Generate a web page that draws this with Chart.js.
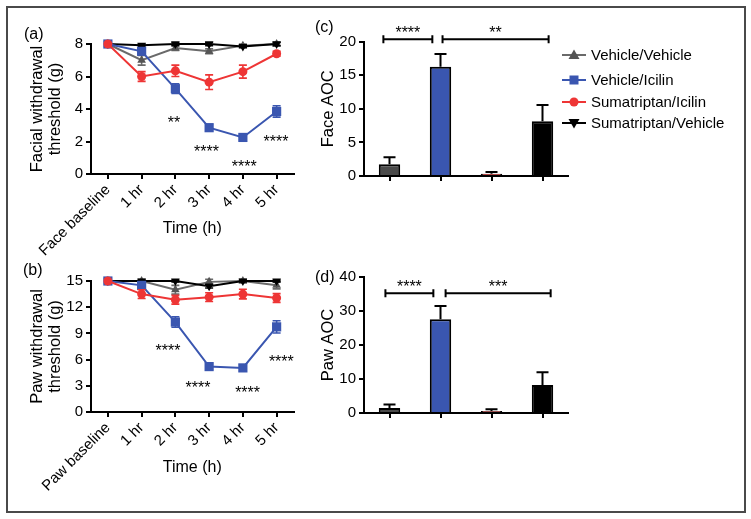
<!DOCTYPE html>
<html>
<head>
<meta charset="utf-8">
<script src="https://cdn.jsdelivr.net/npm/chart.js@4"></script>
<style>
body { margin: 0; background: #fff; font-family: "Liberation Sans", Arial, sans-serif; }
#wrap { position: relative; width: 751px; height: 519px; overflow: hidden; }
#frame { position: absolute; left: 6px; top: 6px; width: 736px; height: 503px; border: 2px solid #4a4a4a; }
canvas { position: absolute; }
.tag { position: absolute; font-size: 16px; line-height: 18px; }
.lg { position: absolute; left: 561px; height: 20px; font-size: 15px; line-height: 20px; display: flex; align-items: center; white-space: nowrap; }
.lg svg { margin-right: 4px; }
</style>
</head>
<body>
<div id="wrap">
  <div id="frame"></div>
  <canvas id="chartA" width="300" height="260" style="left:0;top:0"></canvas>
  <canvas id="chartB" width="300" height="260" style="left:0;top:250px"></canvas>
  <canvas id="chartC" width="290" height="250" style="left:300px;top:0"></canvas>
  <canvas id="chartD" width="290" height="260" style="left:300px;top:250px"></canvas>

  <div class="tag" style="left:24px;top:25px">(a)</div>
  <div class="tag" style="left:23px;top:261px">(b)</div>
  <div class="tag" style="left:315px;top:18px">(c)</div>
  <div class="tag" style="left:315px;top:268px">(d)</div>

  <div class="lg" style="top:45px"><svg width="26" height="14"><line x1="1" y1="7" x2="25" y2="7" stroke="#6a6a6a" stroke-width="2"/><polygon points="13,1.5 18.5,11 7.5,11" fill="#555"/></svg>Vehicle/Vehicle</div>
  <div class="lg" style="top:70px"><svg width="26" height="14"><line x1="1" y1="7" x2="25" y2="7" stroke="#3a56b0" stroke-width="2"/><rect x="8.5" y="2.5" width="9" height="9" fill="#3a56b0"/></svg>Vehicle/Icilin</div>
  <div class="lg" style="top:92px"><svg width="26" height="14"><line x1="1" y1="7" x2="25" y2="7" stroke="#ee3535" stroke-width="2"/><circle cx="13" cy="7" r="4.5" fill="#ee3535"/></svg>Sumatriptan/Icilin</div>
  <div class="lg" style="top:113px"><svg width="26" height="14"><line x1="1" y1="7" x2="25" y2="7" stroke="#000" stroke-width="2"/><polygon points="7.5,3 18.5,3 13,12.5" fill="#000"/></svg>Sumatriptan/Vehicle</div>
</div>

<script>
// time points
var faceTimes = ['Face baseline', '1 hr', '2 hr', '3 hr', '4 hr', '5 hr'];
var pawTimes = ['Paw baseline', '1 hr', '2 hr', '3 hr', '4 hr', '5 hr'];
var groups = ['Vehicle/Vehicle', 'Vehicle/Icilin', 'Sumatriptan/Icilin', 'Sumatriptan/Vehicle'];

// (a) facial withdrawal threshold, mean and SEM
var faceVehVeh = [8, 7.0, 7.75, 7.55, 7.9, 8.0];
var faceVehVehErr = [0, 0.3, 0.15, 0.15, 0.1, 0.1];
var faceVehIci = [8, 7.55, 5.25, 2.85, 2.25, 3.85];
var faceVehIciErr = [0, 0.15, 0.3, 0.2, 0.15, 0.35];
var faceSumIci = [8, 6.0, 6.35, 5.65, 6.3, 7.4];
var faceSumIciErr = [0, 0.3, 0.35, 0.45, 0.4, 0.15];
var faceSumVeh = [8, 7.92, 8.0, 8.0, 7.85, 8.0];
var faceSumVehErr = [0, 0.08, 0.1, 0.1, 0.08, 0.1];

// (b) paw withdrawal threshold
var pawVehVeh = [15, 15, 14.0, 14.9, 15, 14.5];
var pawVehVehErr = [0, 0.2, 0.5, 0.3, 0.2, 0.4];
var pawVehIci = [15, 14.5, 10.3, 5.2, 5.05, 9.75];
var pawVehIciErr = [0, 0.3, 0.6, 0.3, 0.35, 0.7];
var pawSumIci = [15, 13.5, 12.85, 13.15, 13.5, 13.05];
var pawSumIciErr = [0, 0.5, 0.5, 0.5, 0.55, 0.5];
var pawSumVeh = [15, 15, 15, 14.4, 15, 15];
var pawSumVehErr = [0, 0.1, 0.1, 0.2, 0.1, 0.1];

// (c) (d) area over the curve
var faceAoc = [1.75, 16.25, 0.35, 8.15];
var faceAocErr = [1.05, 1.9, 0.25, 2.4];
var pawAoc = [1.5, 27.6, 0.6, 8.2];
var pawAocErr = [1.0, 3.9, 0.5, 3.8];

Chart.defaults.font.family = '"Liberation Sans", Arial, sans-serif';
Chart.defaults.font.size = 15;
Chart.defaults.color = '#000';
Chart.defaults.animation = false;

var FONT = '"Liberation Sans", Arial, sans-serif';

var errorBars = {
    id: 'errorBars',
    beforeDatasetDraw: function (chart, args) {
        var ds = chart.data.datasets[args.index];
        if (!ds.errors) return;
        var y = chart.scales.y;
        var ctx = chart.ctx;
        var bar = chart.config.type === 'bar';
        ctx.save();
        ctx.strokeStyle = ds.errColor || ds.borderColor;
        ctx.lineWidth = bar ? 2 : 1.6;
        var cap = bar ? 6 : 4;
        args.meta.data.forEach(function (el, i) {
            var e = ds.errors[i];
            if (!e) return;
            var top = y.getPixelForValue(ds.data[i] + e);
            var bot = bar ? y.getPixelForValue(ds.data[i]) : y.getPixelForValue(ds.data[i] - e);
            ctx.beginPath();
            ctx.moveTo(el.x, top); ctx.lineTo(el.x, bot);
            ctx.moveTo(el.x - cap, top); ctx.lineTo(el.x + cap, top);
            if (!bar) { ctx.moveTo(el.x - cap, bot); ctx.lineTo(el.x + cap, bot); }
            ctx.stroke();
        });
        ctx.restore();
    }
};

// asterisks and comparison brackets
function marks(stars, brackets) {
    return {
        id: 'marks',
        afterDraw: function (chart) {
            var ctx = chart.ctx, x = chart.scales.x, y = chart.scales.y;
            ctx.save();
            ctx.fillStyle = '#000';
            ctx.strokeStyle = '#000';
            ctx.font = '16px ' + FONT;
            ctx.textAlign = 'center';
            ctx.textBaseline = 'alphabetic';
            (stars || []).forEach(function (s) {
                ctx.fillText(s[2], x.getPixelForValue(s[0]), y.getPixelForValue(s[1]) + 9);
            });
            ctx.lineWidth = 2;
            (brackets || []).forEach(function (b) {
                var x1 = x.getPixelForValue(b[0]), x2 = x.getPixelForValue(b[1]);
                var py = y.getPixelForValue(b[2]);
                ctx.beginPath();
                ctx.moveTo(x1, py); ctx.lineTo(x2, py);
                ctx.moveTo(x1, py - 4); ctx.lineTo(x1, py + 4);
                ctx.moveTo(x2, py - 4); ctx.lineTo(x2, py + 4);
                ctx.stroke();
                ctx.fillText(b[3], (x1 + x2) / 2, py - 1);
            });
            ctx.restore();
        }
    };
}

function axisStyle() {
    return {
        grid: { display: true, drawOnChartArea: false, drawTicks: true, tickLength: 5, color: '#000', lineWidth: 2 },
        border: { display: true, color: '#000', width: 2 }
    };
}

function series(vv, vvE, vi, viE, si, siE, sv, svE) {
    return [
        { label: groups[0], data: vv, errors: vvE, borderColor: '#6a6a6a', backgroundColor: '#555', errColor: '#6a6a6a',
          pointStyle: 'triangle', pointRadius: 5, order: 3 },
        { label: groups[1], data: vi, errors: viE, borderColor: '#3a56b0', backgroundColor: '#3a56b0',
          pointStyle: 'rect', pointRadius: 6.5, order: 1 },
        { label: groups[2], data: si, errors: siE, borderColor: '#ee3535', backgroundColor: '#ee3535',
          pointStyle: 'circle', pointRadius: 4.5, order: 0 },
        { label: groups[3], data: sv, errors: svE, borderColor: '#000', backgroundColor: '#000',
          pointStyle: 'triangle', pointRotation: 180, pointRadius: 5, order: 2 }
    ].map(function (d) {
        d.borderWidth = 2; d.pointBorderWidth = 0; d.tension = 0; d.clip = false;
        d.pointHoverRadius = d.pointRadius;
        return d;
    });
}

function lineChart(id, labels, datasets, yMax, step, yTitle, stars, g) {
    var xs = axisStyle(), ys = axisStyle();
    new Chart(document.getElementById(id), {
        type: 'line',
        data: { labels: labels, datasets: datasets },
        plugins: [errorBars, marks(stars, null)],
        options: {
            responsive: false,
            layout: { padding: { left: 0, top: g.top, right: g.w - g.right, bottom: 0 } },
            plugins: { legend: { display: false }, tooltip: { enabled: false } },
            scales: {
                x: Object.assign(xs, {
                    offset: true,
                    ticks: { minRotation: 45, maxRotation: 45, padding: 2, font: { size: 15 } },
                    title: { display: true, text: 'Time (h)', font: { size: 16 }, padding: { bottom: g.tBottom, top: 0 } },
                    afterFit: function (s) { s.height = g.h - g.bottom; }
                }),
                y: Object.assign(ys, {
                    min: 0, max: yMax,
                    ticks: { stepSize: step, padding: 3, font: { size: 15 } },
                    title: { display: true, text: yTitle, font: { size: 16.5, lineHeight: 1.05 }, padding: { top: 29, bottom: 0 } },
                    afterFit: function (s) { s.width = g.left; }
                })
            }
        }
    });
}

function barChart(id, values, errors, yMax, step, yTitle, brackets, g) {
    var xs = axisStyle(), ys = axisStyle();
    xs.grid.offset = false;
    new Chart(document.getElementById(id), {
        type: 'bar',
        data: {
            labels: groups,
            datasets: [{
                data: values, errors: errors, errColor: '#000',
                backgroundColor: ['#4a4a4a', '#3a56b0', '#b22222', '#000'],
                borderColor: '#000', borderWidth: 2,
                barPercentage: 0.42, categoryPercentage: 1
            }]
        },
        plugins: [errorBars, marks(null, brackets)],
        options: {
            responsive: false,
            layout: { padding: { left: 0, top: g.top, right: g.w - g.right, bottom: 0 } },
            plugins: { legend: { display: false }, tooltip: { enabled: false } },
            scales: {
                x: Object.assign(xs, {
                    ticks: { display: false },
                    afterFit: function (s) { s.height = g.h - g.bottom; }
                }),
                y: Object.assign(ys, {
                    min: 0, max: yMax,
                    ticks: { stepSize: step, padding: 3, font: { size: 15 } },
                    title: { display: true, text: yTitle, font: { size: 16.5 }, padding: { top: 19, bottom: 0 } },
                    afterFit: function (s) { s.width = g.left; }
                })
            }
        }
    });
}

lineChart('chartA', faceTimes,
    series(faceVehVeh, faceVehVehErr, faceVehIci, faceVehIciErr, faceSumIci, faceSumIciErr, faceSumVeh, faceSumVehErr),
    8, 2, ['Facial withdrawal', 'threshold (g)'],
    [[1.96, 3.38, '**'], [2.92, 1.59, '****'], [4.04, 0.66, '****'], [4.98, 2.2, '****']],
    { w: 300, h: 260, left: 91, right: 295, top: 44, bottom: 174, tBottom: 22 });

lineChart('chartB', pawTimes,
    series(pawVehVeh, pawVehVehErr, pawVehIci, pawVehIciErr, pawSumIci, pawSumIciErr, pawSumVeh, pawSumVehErr),
    15, 3, ['Paw withdrawal', 'threshold (g)'],
    [[1.78, 7.49, '****'], [2.67, 3.16, '****'], [4.14, 2.59, '****'], [5.14, 6.16, '****']],
    { w: 300, h: 260, left: 91, right: 295, top: 31, bottom: 162, tBottom: 33 });

barChart('chartC', faceAoc, faceAocErr, 20, 5, 'Face AOC',
    [[-0.12, 0.84, 20.35, '****'], [1.04, 3.12, 20.35, '**']],
    { w: 290, h: 250, left: 64, right: 268, top: 41.5, bottom: 176 });

barChart('chartD', pawAoc, pawAocErr, 40, 10, 'Paw AOC',
    [[-0.08, 0.86, 35.2, '****'], [1.1, 3.16, 35.2, '***']],
    { w: 290, h: 260, left: 64, right: 268, top: 27, bottom: 163 });
</script>
</body>
</html>
